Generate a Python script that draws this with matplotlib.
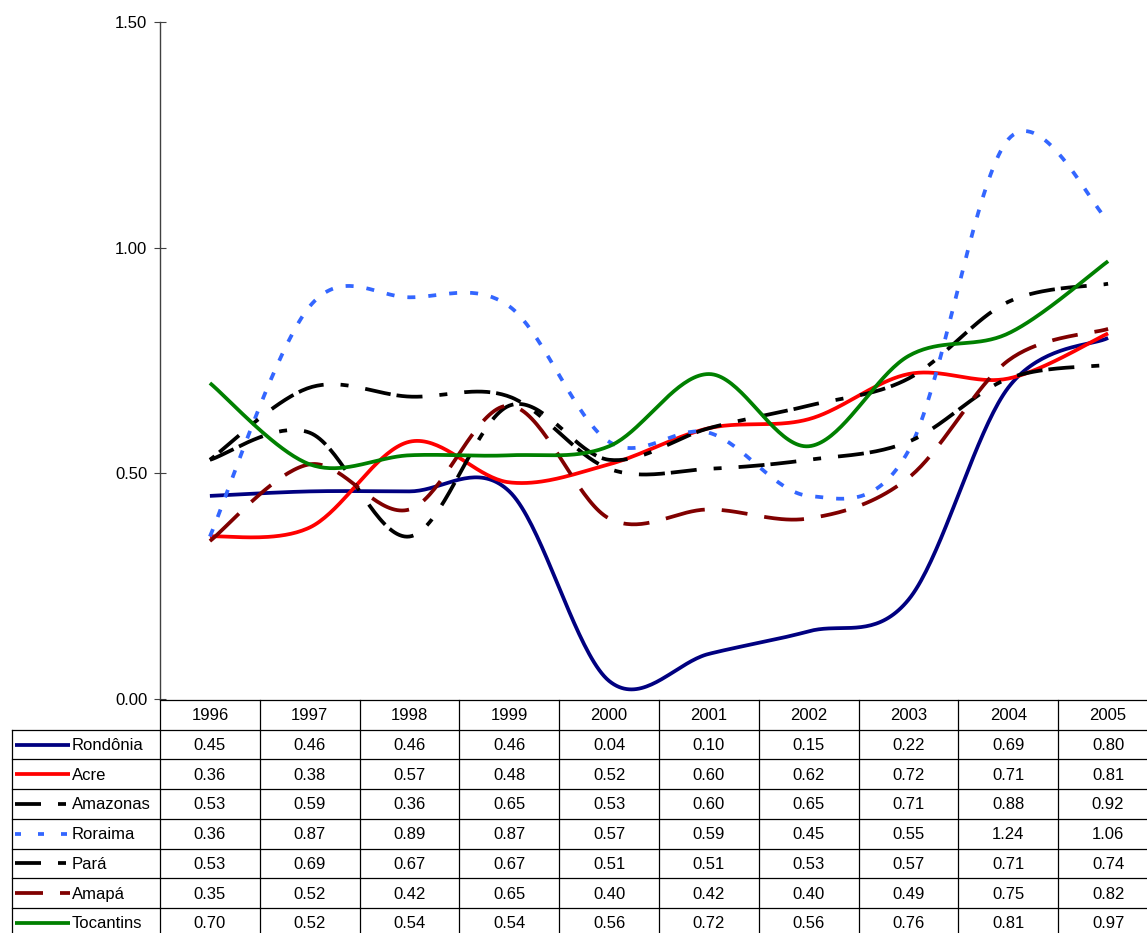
import numpy as np
import matplotlib
matplotlib.use("Agg")
import matplotlib.pyplot as plt
from matplotlib.lines import Line2D

plt.rcParams["font.family"] = ["Liberation Sans", "DejaVu Sans"]
plt.rcParams["lines.scale_dashes"] = False

# ---- data ----
years = ["1996", "1997", "1998", "1999", "2000", "2001", "2002", "2003", "2004", "2005"]
states = ["Rondônia", "Acre", "Amazonas", "Roraima", "Pará", "Amapá", "Tocantins"]
rondonia = [0.45, 0.46, 0.46, 0.46, 0.04, 0.10, 0.15, 0.22, 0.69, 0.80]
acre = [0.36, 0.38, 0.57, 0.48, 0.52, 0.60, 0.62, 0.72, 0.71, 0.81]
amazonas = [0.53, 0.59, 0.36, 0.65, 0.53, 0.60, 0.65, 0.71, 0.88, 0.92]
roraima = [0.36, 0.87, 0.89, 0.87, 0.57, 0.59, 0.45, 0.55, 1.24, 1.06]
para = [0.53, 0.69, 0.67, 0.67, 0.51, 0.51, 0.53, 0.57, 0.71, 0.74]
amapa = [0.35, 0.52, 0.42, 0.65, 0.40, 0.42, 0.40, 0.49, 0.75, 0.82]
tocantins = [0.70, 0.52, 0.54, 0.54, 0.56, 0.72, 0.56, 0.76, 0.81, 0.97]
series = [rondonia, acre, amazonas, roraima, para, amapa, tocantins]

PX = 0.72  # points per pixel at 100 dpi


def px(seq):
    return tuple(v * PX for v in seq)


colors = ["#000080", "#FF0000", "#000000", "#3366FF", "#000000", "#800000", "#008000"]
dash_long_short = px([26, 6, 26, 17, 8, 17])
dash_amapa = px([40, 17, 26, 17])
dash_dot = px([8, 13])
styles = [
    "-",
    "-",
    (0, dash_long_short),
    (0, dash_dot),
    (20 * PX, dash_long_short),
    (0, dash_amapa),
    "-",
]
key_styles = [
    "-",
    "-",
    (32 * PX, dash_long_short),
    (0, px([6, 17])),
    (32 * PX, dash_long_short),
    (12 * PX, dash_amapa),
    "-",
]
LW = 2.7
FS = 12


def smooth(y, n=40):
    """Bezier smoothing through every point (Excel-style smoothed line)."""
    x = np.arange(len(y), dtype=float)
    P = np.column_stack([x, np.asarray(y, float)])
    out = []
    for i in range(len(P) - 1):
        p0 = P[i - 1] if i > 0 else P[i]
        p1, p2 = P[i], P[i + 1]
        p3 = P[i + 2] if i + 2 < len(P) else P[i + 1]
        c1 = p1 + (p2 - p0) / 6.0
        c2 = p2 - (p3 - p1) / 6.0
        t = np.linspace(0, 1, n, endpoint=(i == len(P) - 2))[:, None]
        seg = ((1 - t) ** 3) * p1 + 3 * ((1 - t) ** 2) * t * c1 + 3 * (1 - t) * t ** 2 * c2 + t ** 3 * p2
        out.append(seg)
    out = np.vstack(out)
    return out[:, 0], out[:, 1]


# ---- layout (pixels) ----
W, H = 1147, 933
AX_L, AX_TOP, AX_BOT = 160, 22, 699
COL_W = 99.8
ROW_TOP = 700
ROW_H = 29.7
TAB_L = 12

fig = plt.figure(figsize=(W / 100, H / 100), dpi=100)
ax = fig.add_axes([AX_L / W, (H - AX_BOT) / H, COL_W * len(years) / W, (AX_BOT - AX_TOP) / H])

for vals, col, ls in zip(series, colors, styles):
    sx, sy = smooth(vals)
    ax.plot(sx, sy, color=col, lw=LW, linestyle=ls, solid_capstyle="butt", dash_capstyle="butt")

ax.set_xlim(-0.5, len(years) - 0.5)
ax.set_ylim(0, 1.5)
ax.set_yticks([0, 0.5, 1.0, 1.5])
ax.set_yticklabels(["0.00", "0.50", "1.00", "1.50"])
ax.set_xticks([])
for s in ["top", "right", "bottom"]:
    ax.spines[s].set_visible(False)
ax.spines["left"].set_color("#404040")
ax.spines["left"].set_linewidth(1.0)
ax.tick_params(axis="y", direction="inout", length=8, width=0.8, color="#404040",
               labelsize=FS, pad=5, labelcolor="black")

# ---- data table ----
tab = fig.add_axes([0, 0, 1, 1], facecolor="none")
tab.set_xlim(0, W)
tab.set_ylim(H, 0)
tab.axis("off")

right = AX_L + COL_W * len(years)
bottom = ROW_TOP + ROW_H * (len(states) + 1)
line_kw = dict(color="black", lw=0.9)

# horizontal rules
tab.plot([AX_L, right], [ROW_TOP, ROW_TOP], **line_kw)
for r in range(1, len(states) + 2):
    y = ROW_TOP + r * ROW_H
    tab.plot([TAB_L, right], [y, y], **line_kw)
# vertical rules
tab.plot([TAB_L, TAB_L], [ROW_TOP + ROW_H, bottom], **line_kw)
for c in range(len(years) + 1):
    x = AX_L + c * COL_W
    tab.plot([x, x], [ROW_TOP, bottom], **line_kw)

txt_kw = dict(fontsize=FS, color="black", va="center")
for c, yr in enumerate(years):
    tab.text(AX_L + (c + 0.5) * COL_W, ROW_TOP + ROW_H / 2 + 1, yr, ha="center", **txt_kw)

for r, (name, vals, col, ls) in enumerate(zip(states, series, colors, key_styles)):
    yc = ROW_TOP + (r + 1.5) * ROW_H
    tab.add_line(Line2D([15, 70], [yc, yc], color=col, lw=LW, linestyle=ls,
                        solid_capstyle="butt", dash_capstyle="butt"))
    tab.text(72, yc + 1, name, ha="left", **txt_kw)
    for c, v in enumerate(vals):
        tab.text(AX_L + (c + 0.5) * COL_W, yc + 1, f"{v:.2f}", ha="center", **txt_kw)

fig.savefig("out.png", dpi=100, facecolor="white")
